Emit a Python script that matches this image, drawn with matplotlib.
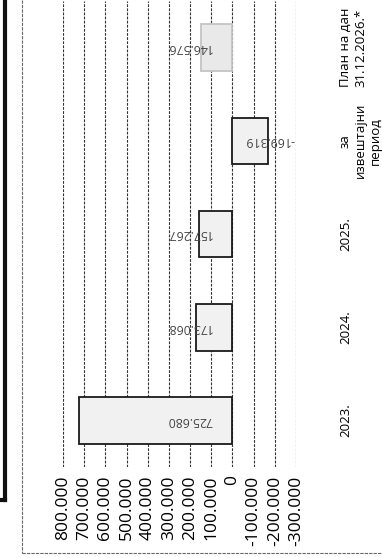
import matplotlib
matplotlib.use("agg")
from matplotlib import pyplot as plt
from matplotlib.lines import Line2D

categories = ["2023.", "2024.", "2025.", "за\nизвештајни\nпериод", "План на дан\n31.12.2026.*"]
values = [725680, 173068, 157267, -169319, 146576]
ticks = list(range(-300000, 800001, 100000))

plt.rcParams["font.family"] = ["Open Sans", "DejaVu Sans"]


def fmt(v):
    s = f"{abs(v):,}".replace(",", ".")
    return ("-" if v < 0 else "") + s


fig = plt.figure(figsize=(3.82, 5.58), dpi=100)
ax = fig.add_axes([63 / 382, 91 / 558, 233 / 382, 466 / 558])

pos = list(range(len(categories)))
face = ["#f1f1f1"] * 4 + ["#e9e9e9"]
edge = ["#1a1a1a"] * 4 + ["#c4c4c4"]
bars = ax.barh(pos, values, height=0.5, color=face, edgecolor=edge, linewidth=1.3, zorder=3)

ax.set_xlim(800000, -300000)
ax.set_ylim(-0.5, 4.5)
ax.set_xticks(ticks)
ax.set_xticklabels([fmt(t) for t in ticks], rotation=90, va="top", ha="center", fontsize=12.5)
ax.tick_params(axis="x", length=0, pad=6)
ax.grid(axis="x", linestyle=(0, (2.5, 1.2)), color="#333333", linewidth=0.8, zorder=0)

ax.yaxis.tick_right()
ax.set_yticks(pos)
ax.set_yticklabels(categories, rotation=90, va="center", ha="left", fontsize=9.5,
                   multialignment="center", linespacing=1.2)
ax.tick_params(axis="y", length=0, pad=31)

for s in ax.spines.values():
    s.set_visible(False)

for p, v in zip(pos, values):
    off = -43 if v > 0 else 37
    ax.annotate(fmt(v), (0, p), xytext=(off, 0), textcoords="offset pixels",
                rotation=180, ha="center", va="center", fontsize=8.8, color="#444444", zorder=4)

# scan frame lines
fig.add_artist(Line2D([5 / 382, 5 / 382], [1, 1 - 500 / 558], lw=3, color="#111111"))
fig.add_artist(Line2D([0, 5 / 382], [1 - 500 / 558, 1 - 500 / 558], lw=3, color="#111111"))
fig.add_artist(Line2D([22 / 382, 22 / 382], [1, 1 - 553 / 558], lw=0.8, color="#666666",
                      linestyle=(0, (3, 1))))
fig.add_artist(Line2D([22 / 382, 1], [1 - 553 / 558, 1 - 553 / 558], lw=0.8, color="#666666",
                      linestyle=(0, (3, 1))))

fig.savefig("out.png", dpi=100)
